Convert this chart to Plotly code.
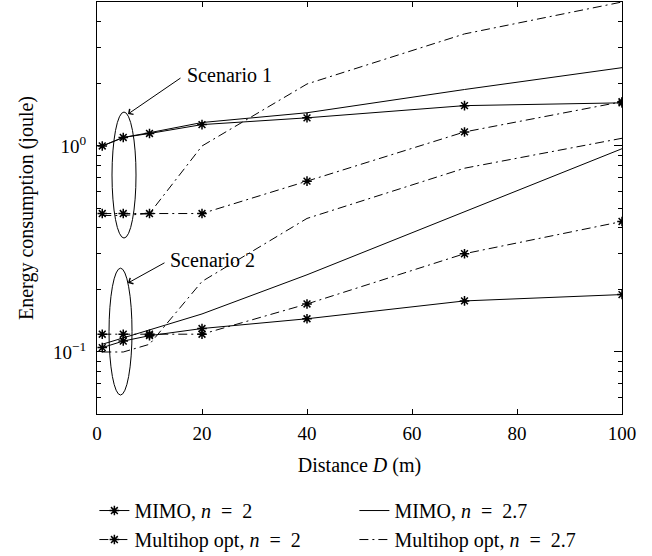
import plotly.graph_objects as go
import numpy as np

distance = [1, 5, 10, 20, 40, 70, 100]

# Scenario 1
s1_mimo_n2 = [1.0, 1.1, 1.15, 1.27, 1.37, 1.57, 1.62]
s1_mimo_n27 = [1.0, 1.1, 1.16, 1.30, 1.45, 1.88, 2.4]
s1_multi_n2 = [0.47, 0.47, 0.47, 0.47, 0.675, 1.17, 1.64]
s1_multi_n27 = [0.46, 0.46, 0.47, 1.0, 2.0, 3.5, 5.0]

# Scenario 2
s2_mimo_n2 = [0.105, 0.113, 0.12, 0.13, 0.145, 0.177, 0.19]
s2_mimo_n27 = [0.109, 0.117, 0.128, 0.153, 0.237, 0.48, 0.97]
s2_multi_n2 = [0.122, 0.122, 0.122, 0.122, 0.171, 0.30, 0.43]
s2_multi_n27 = [0.10, 0.10, 0.109, 0.22, 0.445, 0.78, 1.09]

names = ["MIMO, <i>n</i>\u2002=\u20022", "MIMO, <i>n</i>\u2002=\u20022.7",
         "Multihop opt, <i>n</i>\u2002=\u20022", "Multihop opt, <i>n</i>\u2002=\u20022.7"]

FONT = "Liberation Serif"
DASHDOT = "9px,4px,2px,4px"

styles = [
    dict(dash="solid", marker=True),
    dict(dash="solid", marker=False),
    dict(dash=DASHDOT, marker=True),
    dict(dash=DASHDOT, marker=False),
]

fig = go.Figure()
series = [
    (s1_mimo_n2, s1_mimo_n27, s1_multi_n2, s1_multi_n27),
    (s2_mimo_n2, s2_mimo_n27, s2_multi_n2, s2_multi_n27),
]
for si, group in enumerate(series):
    for k, ys in enumerate(group):
        st = styles[k]
        fig.add_trace(go.Scatter(
            x=distance, y=ys, name=names[k], legendgroup=str(k),
            showlegend=(si == 0),
            mode="lines+markers" if st["marker"] else "lines",
            line=dict(color="black", width=1, dash=st["dash"]),
            marker=dict(symbol="asterisk-open", size=8,
                        line=dict(color="black", width=1.5)),
        ))

minor_vals = [0.05, 0.06, 0.07, 0.08, 0.09, 0.2, 0.3, 0.4, 0.5, 0.6, 0.7, 0.8, 0.9, 2, 3, 4, 5]

fig.update_layout(
    width=652, height=556,
    margin=dict(l=97, r=30, t=2, b=142, autoexpand=False),
    paper_bgcolor="white", plot_bgcolor="white",
    font=dict(family=FONT, size=20, color="black"),
    showlegend=True,
    legend=dict(orientation="h", x=-0.005, xanchor="left", y=-0.187, yanchor="top",
                entrywidth=215, entrywidthmode="pixels",
                font=dict(family=FONT, size=20), tracegroupgap=0,
                bgcolor="rgba(0,0,0,0)"),
    xaxis=dict(range=[0, 100], tickvals=[0, 20, 40, 60, 80, 100], automargin=False,
               ticks="inside", ticklen=5, tickcolor="black",
               tickfont=dict(family=FONT, size=19), ticklabelstandoff=2,
               showline=True, linecolor="black", linewidth=1, mirror="ticks",
               showgrid=False, zeroline=False,
               title=dict(text="Distance <i>D</i> (m)", standoff=15,
                          font=dict(family=FONT, size=20))),
    yaxis=dict(type="log", range=[np.log10(0.05), np.log10(5)], automargin=False,
               tickvals=[0.1, 1], ticktext=["10<sup>\u22121</sup>", "10<sup>0</sup>"],
               ticks="inside", ticklen=8, tickcolor="black",
               tickfont=dict(family=FONT, size=19), ticklabelstandoff=6,
               minor=dict(tickmode="array", tickvals=minor_vals, ticks="inside",
                          ticklen=4, tickcolor="black", showgrid=False),
               showline=True, linecolor="black", linewidth=1, mirror="ticks",
               showgrid=False, zeroline=False,
               title=dict(text="Energy consumption (joule)", standoff=14,
                          font=dict(family=FONT, size=20))),
)

# Ellipses (scenario markers)
fig.add_shape(type="circle", xref="x", yref="paper", x0=2.86, x1=7.43, y0=0.427, y1=0.733,
              line=dict(color="black", width=1))
fig.add_shape(type="circle", xref="x", yref="paper", x0=2.29, x1=6.67, y0=0.046, y1=0.354,
              line=dict(color="black", width=1))

# Arrows
fig.add_annotation(x=5.9, y=0.728, xref="x", yref="paper", text="", showarrow=True,
                   ax=54, ay=-37, arrowhead=4, arrowsize=1.3, arrowwidth=1, arrowcolor="black")
fig.add_annotation(x=5.9, y=0.318, xref="x", yref="paper", text="", showarrow=True,
                   ax=38, ay=-21, arrowhead=4, arrowsize=1.3, arrowwidth=1, arrowcolor="black")

fig.add_annotation(x=16.8, y=0.823, xref="x", yref="paper", text="Scenario 1", showarrow=False,
                   xanchor="left", yanchor="middle", font=dict(family=FONT, size=20))
fig.add_annotation(x=13.5, y=0.374, xref="x", yref="paper", text="Scenario 2", showarrow=False,
                   xanchor="left", yanchor="middle", font=dict(family=FONT, size=20))

fig.write_html("out.html")
